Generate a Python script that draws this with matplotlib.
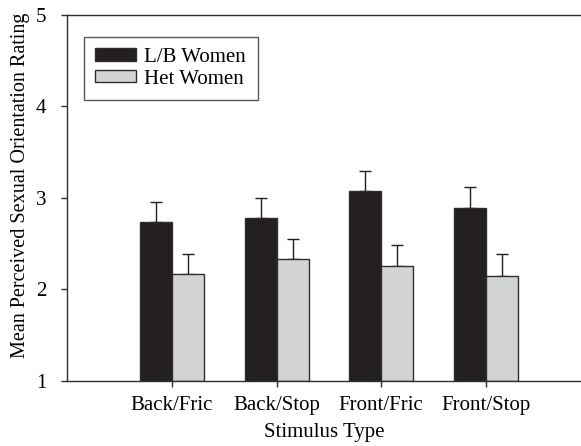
import numpy as np
import matplotlib
matplotlib.use("Agg")
import matplotlib.pyplot as plt

categories = ["Back/Fric", "Back/Stop", "Front/Fric", "Front/Stop"]
lb_means = [2.74, 2.78, 3.07, 2.89]
lb_errs = [0.22, 0.22, 0.22, 0.23]
het_means = [2.17, 2.33, 2.26, 2.15]
het_errs = [0.22, 0.22, 0.22, 0.24]
yticks = [1, 2, 3, 4, 5]

plt.rcParams["font.family"] = ["Liberation Serif", "DejaVu Serif"]
plt.rcParams["font.size"] = 15

fig = plt.figure(figsize=(5.81, 4.46), dpi=100)
ax = fig.add_axes([0.1153, 0.1464, 0.8847, 0.82])

x = np.arange(len(categories))
w = 0.305
edge = "#2e2e2e"
ax.bar(x - w / 2, np.array(lb_means) - 1, w, bottom=1, color="#231f20",
       edgecolor=edge, linewidth=1, label="L/B Women", zorder=2)
ax.bar(x + w / 2, np.array(het_means) - 1, w, bottom=1, color="#d1d3d4",
       edgecolor=edge, linewidth=1, label="Het Women", zorder=2)
ax.errorbar(x - w / 2, lb_means, yerr=[[0] * 4, lb_errs], fmt="none",
            ecolor="#231f20", elinewidth=1, capsize=4, capthick=1, zorder=1)
ax.errorbar(x + w / 2, het_means, yerr=[[0] * 4, het_errs], fmt="none",
            ecolor="#231f20", elinewidth=1, capsize=4, capthick=1, zorder=1)

ax.set_xlim(-1.004, 3.91)
ax.set_ylim(1, 5)
ax.set_xticks(x)
ax.set_xticklabels(categories)
ax.set_yticks(yticks)
ax.tick_params(direction="out", length=4, width=1, color=edge)
ax.tick_params(axis="y", pad=11)
ax.tick_params(axis="x", pad=7)
for side in ["left", "bottom", "top"]:
    ax.spines[side].set_color(edge)
    ax.spines[side].set_linewidth(1)
ax.spines["right"].set_visible(False)

ax.set_xlabel("Stimulus Type", labelpad=6)
ax.set_ylabel("Mean Perceived Sexual Orientation Rating", fontsize=14.5)
ax.yaxis.set_label_coords(-0.071, 0.535)

leg = ax.legend(loc="upper left", bbox_to_anchor=(0.033, 0.941), borderaxespad=0,
                fancybox=False, shadow=False, handlelength=1.95, handleheight=0.55,
                handletextpad=0.4, labelspacing=0.12, borderpad=0.55, fontsize=15)
leg.get_frame().set_edgecolor(edge)
leg.get_frame().set_linewidth(1)

fig.savefig("out.png", dpi=100)
